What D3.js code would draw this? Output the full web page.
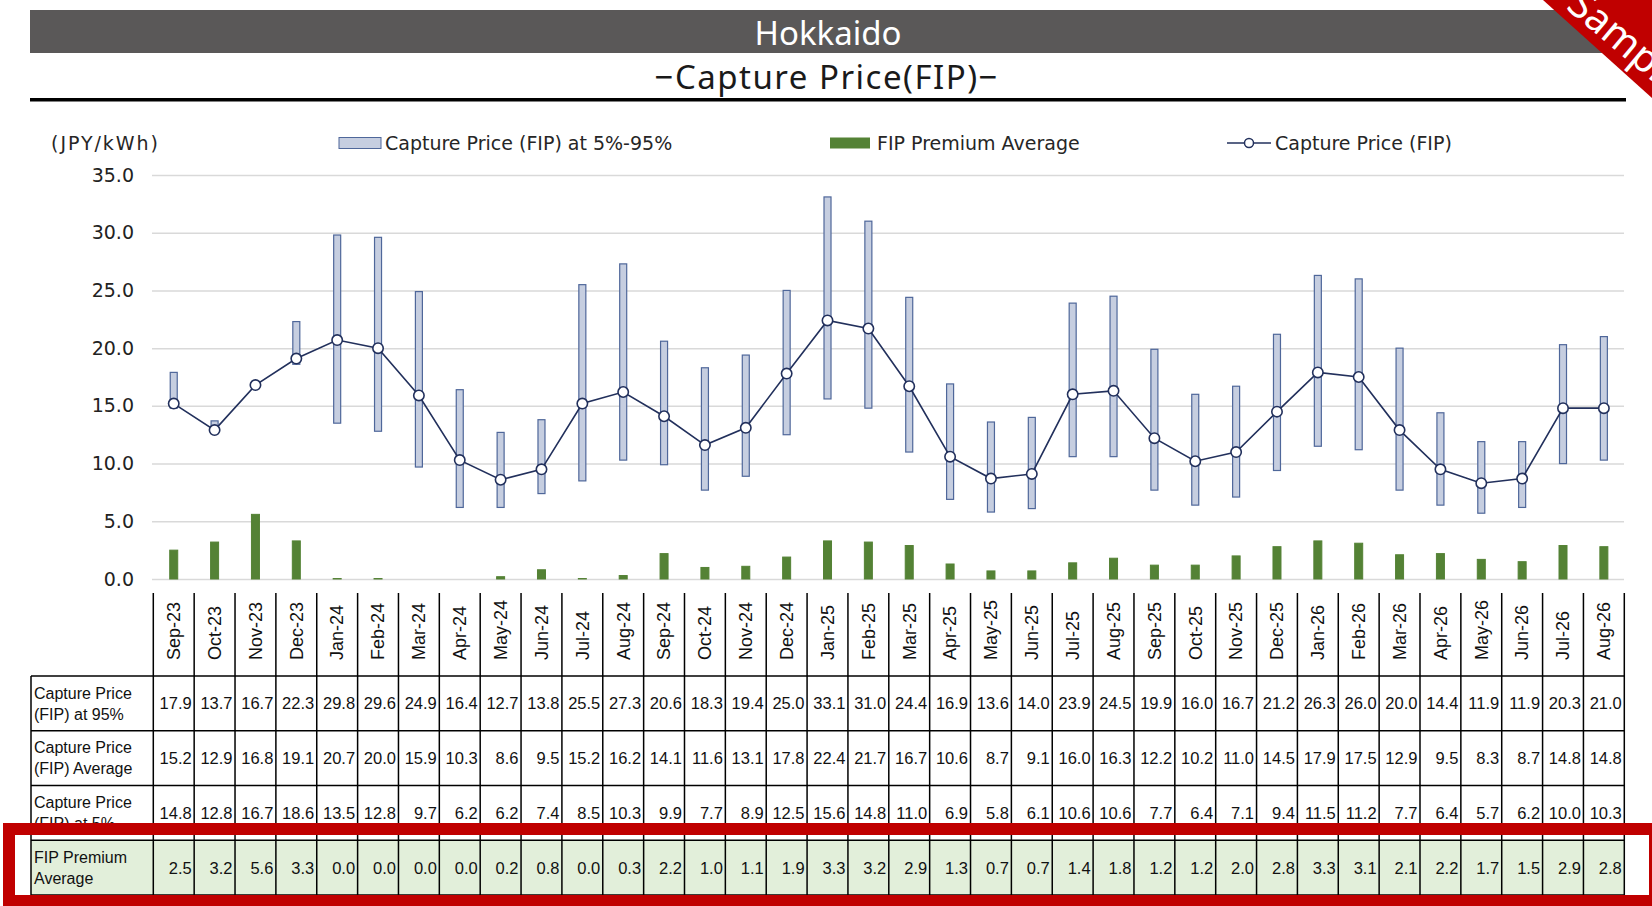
<!DOCTYPE html>
<html>
<head>
<meta charset="utf-8">
<script src="https://cdn.jsdelivr.net/npm/d3@7"></script>
<style>
  html, body { margin: 0; padding: 0; background: #fff; }
  svg { display: block; }
</style>
</head>
<body>
<svg id="chart" width="1652" height="906"></svg>
<script>
// data
const months = ['Sep-23','Oct-23','Nov-23','Dec-23','Jan-24','Feb-24','Mar-24','Apr-24','May-24','Jun-24','Jul-24','Aug-24',
  'Sep-24','Oct-24','Nov-24','Dec-24','Jan-25','Feb-25','Mar-25','Apr-25','May-25','Jun-25','Jul-25','Aug-25',
  'Sep-25','Oct-25','Nov-25','Dec-25','Jan-26','Feb-26','Mar-26','Apr-26','May-26','Jun-26','Jul-26','Aug-26'];
const p95 = [17.9,13.7,16.7,22.3,29.8,29.6,24.9,16.4,12.7,13.8,25.5,27.3,20.6,18.3,19.4,25.0,33.1,31.0,24.4,16.9,13.6,14.0,23.9,24.5,19.9,16.0,16.7,21.2,26.3,26.0,20.0,14.4,11.9,11.9,20.3,21.0];
const avg = [15.2,12.9,16.8,19.1,20.7,20.0,15.9,10.3,8.6,9.5,15.2,16.2,14.1,11.6,13.1,17.8,22.4,21.7,16.7,10.6,8.7,9.1,16.0,16.3,12.2,10.2,11.0,14.5,17.9,17.5,12.9,9.5,8.3,8.7,14.8,14.8];
const p5 = [14.8,12.8,16.7,18.6,13.5,12.8,9.7,6.2,6.2,7.4,8.5,10.3,9.9,7.7,8.9,12.5,15.6,14.8,11.0,6.9,5.8,6.1,10.6,10.6,7.7,6.4,7.1,9.4,11.5,11.2,7.7,6.4,5.7,6.2,10.0,10.3];
// a few "0.0" months still show a hairline bar
const premium = [2.5,3.2,5.6,3.3,0.04,0.04,0.0,0.0,0.2,0.8,0.04,0.3,2.2,1.0,1.1,1.9,3.3,3.2,2.9,1.3,0.7,0.7,1.4,1.8,1.2,1.2,2.0,2.8,3.3,3.1,2.1,2.2,1.7,1.5,2.9,2.8];
const yTicks = [0,5,10,15,20,25,30,35];
const rowLabels = [['Capture Price','(FIP) at 95%'],['Capture Price','(FIP) Average'],['Capture Price','(FIP) at 5%'],['FIP Premium','Average']];
const rowValues = [p95, avg, p5, premium];

const navy = '#22305c';
const rangeFill = '#c6cee0';
const rangeStroke = '#4f679a';
const green = '#548235';
const fmt = d3.format('.1f');

const svg = d3.select('#chart');

const x = d3.scaleBand().domain(months).range([153.3, 1624.3]);
const y = d3.scaleLinear().domain([0, 35]).range([579, 175]);
const cx = d => x(d) + x.bandwidth() / 2;

// header block
svg.append('rect').attr('x', 30).attr('y', 10).attr('width', 1596).attr('height', 43).attr('fill', '#5a5858');
svg.append('text').attr('x', 828).attr('y', 45).attr('text-anchor', 'middle')
  .attr('font-family', 'Noto Sans, sans-serif').attr('font-size', 33).attr('fill', '#fff')
  .text('Hokkaido');
svg.append('text').attr('x', 826).attr('y', 89).attr('text-anchor', 'middle')
  .attr('font-family', 'Noto Sans, sans-serif').attr('font-size', 33).attr('fill', '#1a1a1a')
  .attr('textLength', 343).attr('lengthAdjust', 'spacing')
  .text('\u2212Capture Price(FIP)\u2212');
svg.append('rect').attr('x', 30).attr('y', 98).attr('width', 1596).attr('height', 3.5).attr('fill', '#000');

// legend
const lg = svg.append('g').attr('font-family', 'DejaVu Sans, sans-serif').attr('font-size', 19).attr('fill', '#262626');
lg.append('text').attr('x', 51).attr('y', 149.5).attr('textLength', 107).attr('lengthAdjust', 'spacing').text('(JPY/kWh)');
lg.append('rect').attr('x', 339).attr('y', 137.5).attr('width', 42).attr('height', 11)
  .attr('fill', rangeFill).attr('stroke', rangeStroke).attr('stroke-width', 1);
lg.append('text').attr('x', 385).attr('y', 149.5).text('Capture Price (FIP) at 5%-95%');
lg.append('rect').attr('x', 830).attr('y', 137.5).attr('width', 40).attr('height', 11).attr('fill', green);
lg.append('text').attr('x', 877).attr('y', 149.5).text('FIP Premium Average');
lg.append('line').attr('x1', 1227).attr('x2', 1271).attr('y1', 143).attr('y2', 143)
  .attr('stroke', navy).attr('stroke-width', 1.5);
lg.append('circle').attr('cx', 1249).attr('cy', 143).attr('r', 4.5)
  .attr('fill', '#fff').attr('stroke', navy).attr('stroke-width', 1.5);
lg.append('text').attr('x', 1275).attr('y', 149.5).text('Capture Price (FIP)');

// y axis: gridlines + labels
const yAxis = d3.axisLeft(y).tickValues(yTicks).tickFormat(fmt).tickSize(-(1624 - 152)).tickPadding(18);
const ya = svg.append('g').attr('transform', 'translate(152,0)').call(yAxis);
ya.select('.domain').remove();
ya.selectAll('.tick line').attr('stroke', '#d9d9d9').attr('stroke-width', 1.5);
ya.selectAll('.tick text').attr('font-family', 'DejaVu Sans, sans-serif').attr('font-size', 19)
  .attr('fill', '#222');

// 5%-95% range bars
svg.append('g').selectAll('rect').data(months).join('rect')
  .attr('x', d => cx(d) - 3.5)
  .attr('y', (d, i) => y(p95[i]))
  .attr('width', 7)
  .attr('height', (d, i) => y(p5[i]) - y(p95[i]))
  .attr('fill', rangeFill).attr('stroke', rangeStroke).attr('stroke-width', 1.2);

// premium bars
svg.append('g').selectAll('rect').data(months).join('rect')
  .attr('x', d => cx(d) - 4)
  .attr('y', (d, i) => y(premium[i]))
  .attr('width', 8)
  .attr('height', (d, i) => y(0) - y(premium[i]))
  .attr('fill', green)
  .attr('stroke', (d, i) => premium[i] > 0 ? green : 'none').attr('stroke-width', 1);

// average line
const line = d3.line().x(d => cx(d)).y((d, i) => y(avg[i]));
svg.append('path').datum(months).attr('d', line)
  .attr('fill', 'none').attr('stroke', navy).attr('stroke-width', 1.6);
svg.append('g').selectAll('circle').data(months).join('circle')
  .attr('cx', d => cx(d)).attr('cy', (d, i) => y(avg[i])).attr('r', 5.2)
  .attr('fill', '#fff').attr('stroke', navy).attr('stroke-width', 1.6);

// data table
const rows = d3.scaleBand().domain(d3.range(4)).range([676, 895]);
const tableLeft = 31, tableRight = x.range()[1];
const tbl = svg.append('g').attr('font-family', 'Liberation Sans, Arial, sans-serif').attr('fill', '#111');

tbl.append('rect').attr('x', tableLeft).attr('y', rows(3)).attr('width', tableRight - tableLeft)
  .attr('height', rows.bandwidth()).attr('fill', '#e2efda');

tbl.selectAll('text.month').data(months).join('text').attr('class', 'month')
  .attr('transform', d => `translate(${cx(d)},660) rotate(-90)`)
  .attr('dy', '0.35em').attr('font-size', 18)
  .text(d => d);

rowValues.forEach((vals, r) => {
  tbl.append('g').selectAll('text').data(months).join('text')
    .attr('x', d => x(d) + x.step() - 2.5)
    .attr('y', rows(r) + rows.bandwidth() / 2)
    .attr('dy', '0.36em').attr('text-anchor', 'end').attr('font-size', 16.5)
    .text((d, i) => fmt(vals[i]));
  tbl.append('g').selectAll('text').data(rowLabels[r]).join('text')
    .attr('x', tableLeft + 3)
    .attr('y', (d, k) => rows(r) + rows.bandwidth() / 2 + (k === 0 ? -10.5 : 10.5))
    .attr('dy', '0.36em').attr('font-size', 16)
    .text(d => d);
});

const colEdges = months.map(d => x(d)).concat([tableRight]);
tbl.append('g').selectAll('line').data(colEdges).join('line')
  .attr('x1', d => d).attr('x2', d => d).attr('y1', 593).attr('y2', 895)
  .attr('stroke', '#000').attr('stroke-width', 1.5);
const rowEdges = d3.range(4).map(r => rows(r)).concat([rows.range()[1]]);
tbl.append('g').selectAll('line').data(rowEdges).join('line')
  .attr('x1', tableLeft).attr('x2', tableRight).attr('y1', d => d).attr('y2', d => d)
  .attr('stroke', '#000').attr('stroke-width', 1.5);
tbl.append('line').attr('x1', tableLeft).attr('x2', tableLeft).attr('y1', 676).attr('y2', 895)
  .attr('stroke', '#000').attr('stroke-width', 1.5);

// red highlight box round the premium row
svg.append('rect').attr('x', 9).attr('y', 829).attr('width', 1646).attr('height', 72)
  .attr('fill', 'none').attr('stroke', '#c00000').attr('stroke-width', 12);

// sample ribbon in the corner
svg.append('polygon').attr('points', '1543,0 1652,0 1652,98').attr('fill', '#c00000');
svg.append('text').attr('x', 1565).attr('y', 8)
  .attr('transform', 'rotate(40,1565,8)')
  .attr('font-family', 'Noto Sans, sans-serif').attr('font-size', 40).attr('fill', '#fff')
  .text('Sample');
</script>
</body>
</html>
